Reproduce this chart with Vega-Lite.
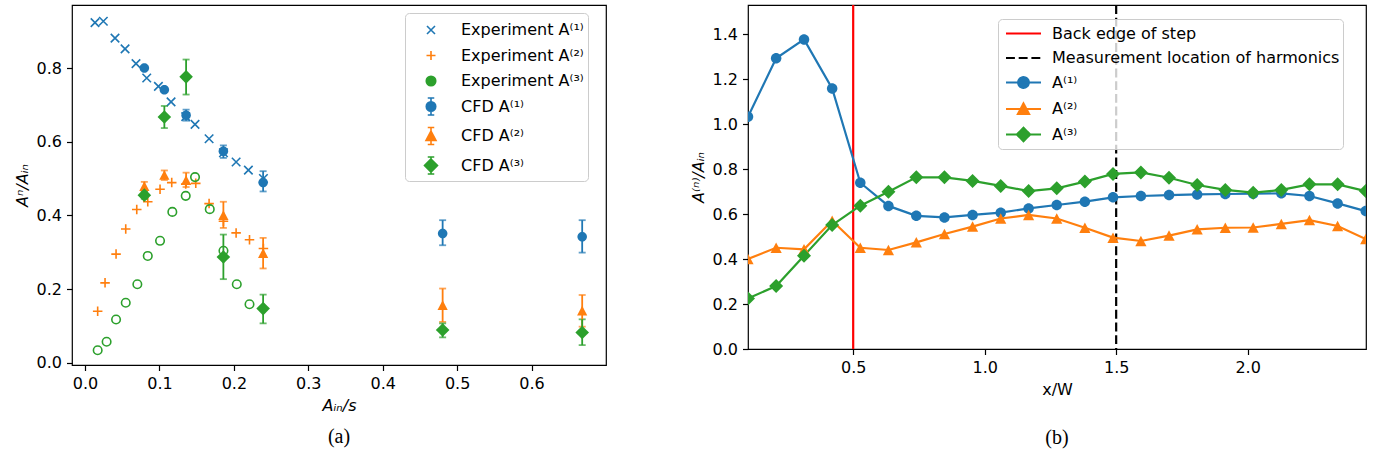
{
  "$schema": "https://vega.github.io/schema/vega-lite/v6.json",
  "padding": {"left": 13, "top": 3, "right": 0, "bottom": 0},
  "spacing": 82,
  "resolve": {"scale": {"color": "independent", "shape": "independent", "strokeDash": "independent"}, "legend": {"color": "independent", "shape": "independent", "strokeDash": "independent"}},
  "config": {
    "font": "DejaVu Sans",
    "view": {"stroke": "black", "strokeWidth": 1.2},
    "axis": {
      "grid": false, "domain": false, "tickColor": "black", "tickSize": 5.5, "tickWidth": 1.2,
      "labelFont": "DejaVu Sans", "labelFontSize": 16, "labelColor": "black", "labelPadding": 5,
      "titleFont": "DejaVu Sans", "titleFontSize": 16, "titleColor": "black", "titleFontWeight": "normal", "titlePadding": 6
    },
    "legend": {
      "labelFont": "DejaVu Sans", "labelFontSize": 16, "labelColor": "black", "labelLimit": 420,
      "strokeColor": "#cccccc", "fillColor": "rgba(255,255,255,0.8)", "cornerRadius": 4,
      "orient": "none"
    },
    "title": {"font": "Liberation Serif", "fontSize": 20, "fontWeight": "normal", "color": "black"}
  },
  "datasets": {
    "expt": [
      {"x": 0.0134, "y": 0.923, "series": "Experiment A⁽¹⁾"},
      {"x": 0.0246, "y": 0.927, "series": "Experiment A⁽¹⁾"},
      {"x": 0.0403, "y": 0.881, "series": "Experiment A⁽¹⁾"},
      {"x": 0.0538, "y": 0.852, "series": "Experiment A⁽¹⁾"},
      {"x": 0.0685, "y": 0.812, "series": "Experiment A⁽¹⁾"},
      {"x": 0.0829, "y": 0.773, "series": "Experiment A⁽¹⁾"},
      {"x": 0.0986, "y": 0.750, "series": "Experiment A⁽¹⁾"},
      {"x": 0.1156, "y": 0.708, "series": "Experiment A⁽¹⁾"},
      {"x": 0.1353, "y": 0.668, "series": "Experiment A⁽¹⁾"},
      {"x": 0.1478, "y": 0.647, "series": "Experiment A⁽¹⁾"},
      {"x": 0.1667, "y": 0.608, "series": "Experiment A⁽¹⁾"},
      {"x": 0.186, "y": 0.570, "series": "Experiment A⁽¹⁾"},
      {"x": 0.203, "y": 0.545, "series": "Experiment A⁽¹⁾"},
      {"x": 0.2195, "y": 0.523, "series": "Experiment A⁽¹⁾"},
      {"x": 0.2397, "y": 0.500, "series": "Experiment A⁽¹⁾"},
      {"x": 0.017, "y": 0.140, "series": "Experiment A⁽²⁾"},
      {"x": 0.0269, "y": 0.217, "series": "Experiment A⁽²⁾"},
      {"x": 0.0417, "y": 0.295, "series": "Experiment A⁽²⁾"},
      {"x": 0.0547, "y": 0.363, "series": "Experiment A⁽²⁾"},
      {"x": 0.0695, "y": 0.416, "series": "Experiment A⁽²⁾"},
      {"x": 0.0843, "y": 0.437, "series": "Experiment A⁽²⁾"},
      {"x": 0.1008, "y": 0.471, "series": "Experiment A⁽²⁾"},
      {"x": 0.1165, "y": 0.489, "series": "Experiment A⁽²⁾"},
      {"x": 0.1353, "y": 0.485, "series": "Experiment A⁽²⁾"},
      {"x": 0.1488, "y": 0.487, "series": "Experiment A⁽²⁾"},
      {"x": 0.1667, "y": 0.432, "series": "Experiment A⁽²⁾"},
      {"x": 0.186, "y": 0.384, "series": "Experiment A⁽²⁾"},
      {"x": 0.203, "y": 0.3525, "series": "Experiment A⁽²⁾"},
      {"x": 0.221, "y": 0.334, "series": "Experiment A⁽²⁾"},
      {"x": 0.2397, "y": 0.310, "series": "Experiment A⁽²⁾"},
      {"x": 0.017, "y": 0.034, "series": "Experiment A⁽³⁾"},
      {"x": 0.029, "y": 0.057, "series": "Experiment A⁽³⁾"},
      {"x": 0.0417, "y": 0.1175, "series": "Experiment A⁽³⁾"},
      {"x": 0.0547, "y": 0.163, "series": "Experiment A⁽³⁾"},
      {"x": 0.0703, "y": 0.213, "series": "Experiment A⁽³⁾"},
      {"x": 0.0843, "y": 0.290, "series": "Experiment A⁽³⁾"},
      {"x": 0.1008, "y": 0.331, "series": "Experiment A⁽³⁾"},
      {"x": 0.1173, "y": 0.4095, "series": "Experiment A⁽³⁾"},
      {"x": 0.1353, "y": 0.453, "series": "Experiment A⁽³⁾"},
      {"x": 0.1478, "y": 0.504, "series": "Experiment A⁽³⁾"},
      {"x": 0.1676, "y": 0.417, "series": "Experiment A⁽³⁾"},
      {"x": 0.186, "y": 0.304, "series": "Experiment A⁽³⁾"},
      {"x": 0.2039, "y": 0.213, "series": "Experiment A⁽³⁾"},
      {"x": 0.221, "y": 0.159, "series": "Experiment A⁽³⁾"}
    ],
    "cfd": [
      {"x": 0.0797, "y": 0.800, "lo": 0.795, "hi": 0.805, "series": "CFD A⁽¹⁾"},
      {"x": 0.1066, "y": 0.741, "lo": 0.735, "hi": 0.747, "series": "CFD A⁽¹⁾"},
      {"x": 0.1358, "y": 0.672, "lo": 0.657, "hi": 0.687, "series": "CFD A⁽¹⁾"},
      {"x": 0.1859, "y": 0.574, "lo": 0.556, "hi": 0.590, "series": "CFD A⁽¹⁾"},
      {"x": 0.2393, "y": 0.489, "lo": 0.465, "hi": 0.520, "series": "CFD A⁽¹⁾"},
      {"x": 0.4805, "y": 0.351, "lo": 0.319, "hi": 0.387, "series": "CFD A⁽¹⁾"},
      {"x": 0.668, "y": 0.342, "lo": 0.299, "hi": 0.387, "series": "CFD A⁽¹⁾"},
      {"x": 0.0797, "y": 0.479, "lo": 0.467, "hi": 0.491, "series": "CFD A⁽²⁾"},
      {"x": 0.1066, "y": 0.509, "lo": 0.496, "hi": 0.522, "series": "CFD A⁽²⁾"},
      {"x": 0.1358, "y": 0.495, "lo": 0.477, "hi": 0.516, "series": "CFD A⁽²⁾"},
      {"x": 0.1859, "y": 0.400, "lo": 0.366, "hi": 0.437, "series": "CFD A⁽²⁾"},
      {"x": 0.2393, "y": 0.297, "lo": 0.256, "hi": 0.339, "series": "CFD A⁽²⁾"},
      {"x": 0.4805, "y": 0.156, "lo": 0.111, "hi": 0.2015, "series": "CFD A⁽²⁾"},
      {"x": 0.668, "y": 0.141, "lo": 0.098, "hi": 0.184, "series": "CFD A⁽²⁾"},
      {"x": 0.0797, "y": 0.455, "lo": 0.445, "hi": 0.465, "series": "CFD A⁽³⁾"},
      {"x": 0.1066, "y": 0.667, "lo": 0.637, "hi": 0.697, "series": "CFD A⁽³⁾"},
      {"x": 0.1358, "y": 0.776, "lo": 0.728, "hi": 0.823, "series": "CFD A⁽³⁾"},
      {"x": 0.1859, "y": 0.287, "lo": 0.227, "hi": 0.348, "series": "CFD A⁽³⁾"},
      {"x": 0.2393, "y": 0.147, "lo": 0.107, "hi": 0.185, "series": "CFD A⁽³⁾"},
      {"x": 0.4805, "y": 0.089, "lo": 0.069, "hi": 0.107, "series": "CFD A⁽³⁾"},
      {"x": 0.668, "y": 0.082, "lo": 0.048, "hi": 0.118, "series": "CFD A⁽³⁾"}
    ],
    "vlines": [
      {"x": 0.5, "name": "Back edge of step"},
      {"x": 1.5, "name": "Measurement location of harmonics"}
    ],
    "prof": [
      {"x": 0.1, "y": 1.032, "series": "A⁽¹⁾"},
      {"x": 0.207, "y": 1.292, "series": "A⁽¹⁾"},
      {"x": 0.313, "y": 1.376, "series": "A⁽¹⁾"},
      {"x": 0.42, "y": 1.158, "series": "A⁽¹⁾"},
      {"x": 0.527, "y": 0.739, "series": "A⁽¹⁾"},
      {"x": 0.634, "y": 0.636, "series": "A⁽¹⁾"},
      {"x": 0.74, "y": 0.592, "series": "A⁽¹⁾"},
      {"x": 0.847, "y": 0.585, "series": "A⁽¹⁾"},
      {"x": 0.954, "y": 0.596, "series": "A⁽¹⁾"},
      {"x": 1.061, "y": 0.606, "series": "A⁽¹⁾"},
      {"x": 1.167, "y": 0.625, "series": "A⁽¹⁾"},
      {"x": 1.274, "y": 0.640, "series": "A⁽¹⁾"},
      {"x": 1.381, "y": 0.655, "series": "A⁽¹⁾"},
      {"x": 1.488, "y": 0.674, "series": "A⁽¹⁾"},
      {"x": 1.594, "y": 0.680, "series": "A⁽¹⁾"},
      {"x": 1.701, "y": 0.684, "series": "A⁽¹⁾"},
      {"x": 1.808, "y": 0.687, "series": "A⁽¹⁾"},
      {"x": 1.915, "y": 0.689, "series": "A⁽¹⁾"},
      {"x": 2.021, "y": 0.690, "series": "A⁽¹⁾"},
      {"x": 2.128, "y": 0.692, "series": "A⁽¹⁾"},
      {"x": 2.235, "y": 0.680, "series": "A⁽¹⁾"},
      {"x": 2.342, "y": 0.647, "series": "A⁽¹⁾"},
      {"x": 2.449, "y": 0.613, "series": "A⁽¹⁾"},
      {"x": 0.1, "y": 0.400, "series": "A⁽²⁾"},
      {"x": 0.207, "y": 0.450, "series": "A⁽²⁾"},
      {"x": 0.313, "y": 0.443, "series": "A⁽²⁾"},
      {"x": 0.42, "y": 0.570, "series": "A⁽²⁾"},
      {"x": 0.527, "y": 0.450, "series": "A⁽²⁾"},
      {"x": 0.634, "y": 0.440, "series": "A⁽²⁾"},
      {"x": 0.74, "y": 0.474, "series": "A⁽²⁾"},
      {"x": 0.847, "y": 0.511, "series": "A⁽²⁾"},
      {"x": 0.954, "y": 0.544, "series": "A⁽²⁾"},
      {"x": 1.061, "y": 0.580, "series": "A⁽²⁾"},
      {"x": 1.167, "y": 0.596, "series": "A⁽²⁾"},
      {"x": 1.274, "y": 0.580, "series": "A⁽²⁾"},
      {"x": 1.381, "y": 0.539, "series": "A⁽²⁾"},
      {"x": 1.488, "y": 0.495, "series": "A⁽²⁾"},
      {"x": 1.594, "y": 0.480, "series": "A⁽²⁾"},
      {"x": 1.701, "y": 0.504, "series": "A⁽²⁾"},
      {"x": 1.808, "y": 0.532, "series": "A⁽²⁾"},
      {"x": 1.915, "y": 0.539, "series": "A⁽²⁾"},
      {"x": 2.021, "y": 0.540, "series": "A⁽²⁾"},
      {"x": 2.128, "y": 0.556, "series": "A⁽²⁾"},
      {"x": 2.235, "y": 0.573, "series": "A⁽²⁾"},
      {"x": 2.342, "y": 0.547, "series": "A⁽²⁾"},
      {"x": 2.449, "y": 0.489, "series": "A⁽²⁾"},
      {"x": 0.1, "y": 0.225, "series": "A⁽³⁾"},
      {"x": 0.207, "y": 0.280, "series": "A⁽³⁾"},
      {"x": 0.313, "y": 0.415, "series": "A⁽³⁾"},
      {"x": 0.42, "y": 0.551, "series": "A⁽³⁾"},
      {"x": 0.527, "y": 0.637, "series": "A⁽³⁾"},
      {"x": 0.634, "y": 0.699, "series": "A⁽³⁾"},
      {"x": 0.74, "y": 0.763, "series": "A⁽³⁾"},
      {"x": 0.847, "y": 0.763, "series": "A⁽³⁾"},
      {"x": 0.954, "y": 0.747, "series": "A⁽³⁾"},
      {"x": 1.061, "y": 0.725, "series": "A⁽³⁾"},
      {"x": 1.167, "y": 0.702, "series": "A⁽³⁾"},
      {"x": 1.274, "y": 0.714, "series": "A⁽³⁾"},
      {"x": 1.381, "y": 0.744, "series": "A⁽³⁾"},
      {"x": 1.488, "y": 0.778, "series": "A⁽³⁾"},
      {"x": 1.594, "y": 0.785, "series": "A⁽³⁾"},
      {"x": 1.701, "y": 0.761, "series": "A⁽³⁾"},
      {"x": 1.808, "y": 0.729, "series": "A⁽³⁾"},
      {"x": 1.915, "y": 0.707, "series": "A⁽³⁾"},
      {"x": 2.021, "y": 0.695, "series": "A⁽³⁾"},
      {"x": 2.128, "y": 0.707, "series": "A⁽³⁾"},
      {"x": 2.235, "y": 0.732, "series": "A⁽³⁾"},
      {"x": 2.342, "y": 0.732, "series": "A⁽³⁾"},
      {"x": 2.449, "y": 0.702, "series": "A⁽³⁾"}
    ]
  },
  "hconcat": [
    {
      "width": 534,
      "height": 360,
      "title": {"text": "(a)", "orient": "bottom", "anchor": "middle", "offset": 13},
      "encoding": {
        "x": {"field": "x", "type": "quantitative", "title": "Aᵢₙ/s",
          "scale": {"domain": [-0.0175, 0.70], "nice": false, "zero": false},
          "axis": {"values": [0, 0.1, 0.2, 0.3, 0.4, 0.5, 0.6], "format": ".1f", "titleFontStyle": "italic"}},
        "y": {"field": "y", "type": "quantitative", "title": "Aⁿ/Aᵢₙ",
          "scale": {"domain": [-0.006, 0.971], "nice": false, "zero": false},
          "axis": {"values": [0, 0.2, 0.4, 0.6, 0.8], "format": ".1f", "titleFontStyle": "italic"}}
      },
      "layer": [
        {
          "data": {"name": "cfd"},
          "mark": {"type": "point", "filled": false, "opacity": 0, "size": 1},
          "encoding": {
            "color": {"field": "series", "type": "nominal",
              "scale": {"domain": ["Experiment A⁽¹⁾", "Experiment A⁽²⁾", "Experiment A⁽³⁾", "CFD A⁽¹⁾", "CFD A⁽²⁾", "CFD A⁽³⁾"],
                        "range": ["#1f77b4", "#ff7f0e", "#2ca02c", "#1f77b4", "#ff7f0e", "#2ca02c"]},
              "legend": {
                "title": null, "legendX": 333, "legendY": 8, "symbolSize": 625, "symbolStrokeWidth": 1.6, "symbolOpacity": 1,
                "rowPadding": 3.5, "padding": 3.5, "symbolOffset": 9, "labelOffset": 16.5
              }},
            "shape": {"field": "series", "type": "nominal", "legend": null,
              "scale": {"domain": ["Experiment A⁽¹⁾", "Experiment A⁽²⁾", "Experiment A⁽³⁾", "CFD A⁽¹⁾", "CFD A⁽²⁾", "CFD A⁽³⁾"],
                "range": [
                  "M-0.32,-0.32L0.32,0.32M-0.32,0.32L0.32,-0.32",
                  "M-0.36,0H0.36M0,-0.36V0.36",
                  "M-0.38,0A0.38,0.38 0 1,0 0.38,0A0.38,0.38 0 1,0 -0.38,0",
                  "M0,-0.68V0.68M-0.26,-0.68H0.26M-0.26,0.68H0.26M-0.38,0A0.38,0.38 0 1,0 0.38,0A0.38,0.38 0 1,0 -0.38,0",
                  "M0,-0.68V0.68M-0.26,-0.68H0.26M-0.26,0.68H0.26M0,-0.4L0.4,0.36L-0.4,0.36Z",
                  "M0,-0.68V0.68M-0.26,-0.68H0.26M-0.26,0.68H0.26M0,-0.52L0.52,0L0,0.52L-0.52,0Z"
                ]}}
          }
        },
        {
          "data": {"name": "expt"},
          "transform": [{"filter": "datum.series === 'Experiment A⁽¹⁾'"}],
          "mark": {"type": "point", "filled": false, "strokeWidth": 1.6, "opacity": 1, "size": 1156, "color": "#1f77b4",
                   "shape": "M-0.25,-0.25L0.25,0.25M-0.25,0.25L0.25,-0.25"}
        },
        {
          "data": {"name": "expt"},
          "transform": [{"filter": "datum.series === 'Experiment A⁽²⁾'"}],
          "mark": {"type": "point", "filled": false, "strokeWidth": 1.6, "opacity": 1, "size": 1156, "color": "#ff7f0e",
                   "shape": "M-0.28,0H0.28M0,-0.28V0.28"}
        },
        {
          "data": {"name": "expt"},
          "transform": [{"filter": "datum.series === 'Experiment A⁽³⁾'"}],
          "mark": {"type": "point", "filled": false, "strokeWidth": 1.6, "opacity": 1, "size": 1156, "color": "#2ca02c",
                   "shape": "M-0.25,0A0.25,0.25 0 1,0 0.25,0A0.25,0.25 0 1,0 -0.25,0"}
        },
        {
          "data": {"name": "cfd"},
          "mark": {"type": "errorbar", "ticks": {"size": 7, "thickness": 1.8}, "rule": {"strokeWidth": 1.8}},
          "encoding": {
            "y": {"field": "lo", "type": "quantitative", "title": "Aⁿ/Aᵢₙ",
              "scale": {"domain": [-0.006, 0.971], "nice": false, "zero": false}},
            "y2": {"field": "hi"},
            "color": {"field": "series", "type": "nominal", "legend": null}
          }
        },
        {
          "data": {"name": "cfd"},
          "transform": [{"filter": "datum.series === 'CFD A⁽¹⁾'"}],
          "mark": {"type": "point", "filled": true, "opacity": 1, "size": 1156, "color": "#1f77b4",
                   "shape": "M-0.28,0A0.28,0.28 0 1,0 0.28,0A0.28,0.28 0 1,0 -0.28,0"}
        },
        {
          "data": {"name": "cfd"},
          "transform": [{"filter": "datum.series === 'CFD A⁽²⁾'"}],
          "mark": {"type": "point", "filled": true, "opacity": 1, "size": 1156, "color": "#ff7f0e",
                   "shape": "M0,-0.3L0.3,0.27L-0.3,0.27Z"}
        },
        {
          "data": {"name": "cfd"},
          "transform": [{"filter": "datum.series === 'CFD A⁽³⁾'"}],
          "mark": {"type": "point", "filled": true, "opacity": 1, "size": 1156, "color": "#2ca02c",
                   "shape": "M0,-0.4L0.4,0L0,0.4L-0.4,0Z"}
        }
      ]
    },
    {
      "width": 618,
      "height": 344,
      "title": {"text": "(b)", "orient": "bottom", "anchor": "middle", "offset": 30},
      "layer": [
        {
          "data": {"name": "prof"},
          "mark": {"type": "point", "filled": false, "opacity": 0, "size": 1},
          "encoding": {
            "x": {"field": "x", "type": "quantitative", "title": "x/W",
              "scale": {"domain": [0.1, 2.45], "nice": false, "zero": false},
              "axis": {"values": [0.5, 1, 1.5, 2], "format": ".1f"}},
            "y": {"field": "y", "type": "quantitative", "title": "A⁽ⁿ⁾/Aᵢₙ",
              "scale": {"domain": [0, 1.529], "nice": false, "zero": false},
              "axis": {"values": [0, 0.2, 0.4, 0.6, 0.8, 1.0, 1.2, 1.4], "format": ".1f", "titleFontStyle": "italic"}},
            "color": {"field": "series", "type": "nominal",
              "scale": {"domain": ["Back edge of step", "Measurement location of harmonics", "A⁽¹⁾", "A⁽²⁾", "A⁽³⁾"],
                        "range": ["#ff0000", "#000000", "#1f77b4", "#ff7f0e", "#2ca02c"]},
              "legend": {
                "title": null, "legendX": 250, "legendY": 14, "symbolSize": 400, "symbolStrokeWidth": 2.2, "symbolOpacity": 1,
                "rowPadding": 4.5, "padding": 3, "symbolOffset": 11, "labelOffset": 17
              }},
            "shape": {"field": "series", "type": "nominal", "legend": null,
              "scale": {"domain": ["Back edge of step", "Measurement location of harmonics", "A⁽¹⁾", "A⁽²⁾", "A⁽³⁾"],
                "range": [
                  "M-1.75,0H1.75",
                  "M-1.75,0H1.75",
                  "M-1.75,0H1.75M-0.53,0A0.53,0.53 0 1,0 0.53,0A0.53,0.53 0 1,0 -0.53,0",
                  "M-1.75,0H1.75M0,-0.55L0.55,0.5L-0.55,0.5Z",
                  "M-1.75,0H1.75M0,-0.66L0.66,0L0,0.66L-0.66,0Z"
                ]}},
            "strokeDash": {"field": "series", "type": "nominal", "legend": null,
              "scale": {"domain": ["Back edge of step", "Measurement location of harmonics", "A⁽¹⁾", "A⁽²⁾", "A⁽³⁾"],
                "range": [[1, 0], [8.9, 3.8], [1, 0], [1, 0], [1, 0]]}}
          }
        },
        {
          "data": {"name": "vlines"},
          "mark": {"type": "rule", "strokeWidth": 2.2},
          "encoding": {
            "x": {"field": "x", "type": "quantitative", "title": "x/W",
              "scale": {"domain": [0.1, 2.45], "nice": false, "zero": false}},
            "color": {"field": "name", "type": "nominal", "legend": null},
            "strokeDash": {"field": "name", "type": "nominal", "legend": null}
          }
        },
        {
          "data": {"name": "prof"},
          "mark": {"type": "line", "strokeWidth": 2.2, "clip": true},
          "encoding": {
            "x": {"field": "x", "type": "quantitative", "title": "x/W",
              "scale": {"domain": [0.1, 2.45], "nice": false, "zero": false}},
            "y": {"field": "y", "type": "quantitative", "title": "A⁽ⁿ⁾/Aᵢₙ",
              "scale": {"domain": [0, 1.529], "nice": false, "zero": false}},
            "color": {"field": "series", "type": "nominal", "legend": null}
          }
        },
        {
          "data": {"name": "prof"},
          "transform": [{"filter": "datum.series === 'A⁽¹⁾'"}],
          "mark": {"type": "point", "filled": true, "opacity": 1, "size": 1225, "clip": true,
                   "shape": "M-0.3,0A0.3,0.3 0 1,0 0.3,0A0.3,0.3 0 1,0 -0.3,0"},
          "encoding": {
            "x": {"field": "x", "type": "quantitative", "title": "x/W",
              "scale": {"domain": [0.1, 2.45], "nice": false, "zero": false}},
            "y": {"field": "y", "type": "quantitative", "title": "A⁽ⁿ⁾/Aᵢₙ",
              "scale": {"domain": [0, 1.529], "nice": false, "zero": false}},
            "color": {"field": "series", "type": "nominal", "legend": null}
          }
        },
        {
          "data": {"name": "prof"},
          "transform": [{"filter": "datum.series === 'A⁽²⁾'"}],
          "mark": {"type": "point", "filled": true, "opacity": 1, "size": 1225, "clip": true,
                   "shape": "M0,-0.3L0.32,0.3L-0.32,0.3Z"},
          "encoding": {
            "x": {"field": "x", "type": "quantitative", "title": "x/W",
              "scale": {"domain": [0.1, 2.45], "nice": false, "zero": false}},
            "y": {"field": "y", "type": "quantitative", "title": "A⁽ⁿ⁾/Aᵢₙ",
              "scale": {"domain": [0, 1.529], "nice": false, "zero": false}},
            "color": {"field": "series", "type": "nominal", "legend": null}
          }
        },
        {
          "data": {"name": "prof"},
          "transform": [{"filter": "datum.series === 'A⁽³⁾'"}],
          "mark": {"type": "point", "filled": true, "opacity": 1, "size": 1225, "clip": true,
                   "shape": "M0,-0.4L0.4,0L0,0.4L-0.4,0Z"},
          "encoding": {
            "x": {"field": "x", "type": "quantitative", "title": "x/W",
              "scale": {"domain": [0.1, 2.45], "nice": false, "zero": false}},
            "y": {"field": "y", "type": "quantitative", "title": "A⁽ⁿ⁾/Aᵢₙ",
              "scale": {"domain": [0, 1.529], "nice": false, "zero": false}},
            "color": {"field": "series", "type": "nominal", "legend": null}
          }
        }
      ]
    }
  ]
}
